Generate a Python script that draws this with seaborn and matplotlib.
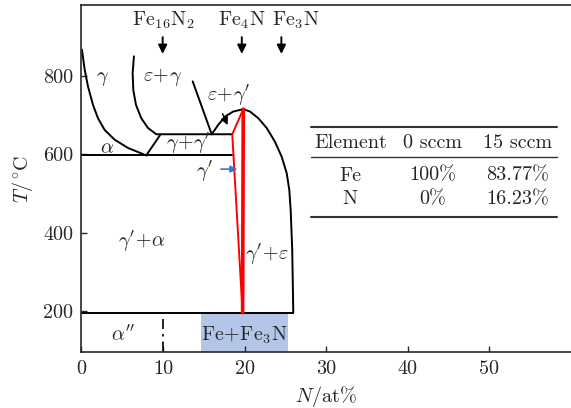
import matplotlib
matplotlib.use("Agg")
import matplotlib.pyplot as plt
import seaborn as sns

# phase boundary curves (N in at%, T in degC)
gamma_N = [0.06, 0.39, 0.80, 1.41, 2.02, 2.84, 4.07, 5.70, 7.94]
gamma_T = [867, 816, 773, 726, 692, 662, 637, 616, 597]

eps_gamma_N = [6.43, 6.27, 6.35, 6.68, 7.33, 8.15, 9.17, 18.48]
eps_gamma_T = [850, 807, 764, 726, 692, 667, 651, 651]

eutectoid_N = [7.94, 9.70]
eutectoid_T = [597, 651]

alpha_line_N = [0, 18.48]
alpha_line_T = [597, 597]

eps_gp_N = [13.63, 15.96]
eps_gp_T = [786, 651]

dome_N = [15.96, 16.76, 17.59, 18.60, 19.83, 20.65, 21.67, 22.70, 23.71,
          24.53, 25.15, 25.47, 25.64, 25.83, 25.96]
dome_T = [651, 675, 696, 709, 715, 709, 692, 667, 632, 594, 552, 509, 458, 356, 195]

low_line_N = [0, 25.96]
low_line_T = [195, 195]

gp_thin_N = [19.83, 18.48, 19.75]
gp_thin_T = [715, 651, 195]
gp_thick_N = [19.83, 19.75]
gp_thick_T = [715, 195]

dashdot_N = [10, 10]
dashdot_T = [178, 95]

fe3n_span = [14.65, 25.3]
fe3n_T = [95, 195]

# compounds marked with arrows on top
compounds = [r"$\mathrm{Fe_{16}N_2}$", r"$\mathrm{Fe_4N}$", r"$\mathrm{Fe_3N}$"]
compound_N = [9.95, 19.65, 24.5]
compound_label_N = [10.0, 19.7, 26.3]

# phase labels
phase_labels = [r"$\gamma$", r"$\varepsilon\!+\!\gamma$", r"$\varepsilon\!+\!\gamma'$", r"$\alpha$",
                r"$\gamma\!+\!\gamma'$", r"$\gamma'$", r"$\gamma'\!+\!\alpha$",
                r"$\gamma'\!+\!\varepsilon$", r"$\alpha''$", r"$\mathrm{Fe\!+\!Fe_3N}$"]
phase_N = [2.6, 9.9, 18.0, 3.1, 13.1, 15.1, 7.4, 22.7, 5.1, 19.95]
phase_T = [792, 796, 750, 616, 627, 557, 377, 343, 139, 139]

# composition table
table_cols = ["Element", "0 sccm", "15 sccm"]
table_rows = [["Fe", "100%", "83.77%"], ["N", "0%", "16.23%"]]

x_ticks = [0, 10, 20, 30, 40, 50]
y_ticks = [200, 400, 600, 800]

sns.set_style("ticks")
plt.rcParams["font.family"] = ["cmr10", "DejaVu Serif"]
plt.rcParams["mathtext.fontset"] = "cm"
plt.rcParams["axes.unicode_minus"] = False
fs = 14.5

fig = plt.figure(figsize=(5.71, 4.08), dpi=100)
ax = fig.add_axes([0.1427, 0.1373, 0.8573, 0.8504])

ax.fill_between(fe3n_span, fe3n_T[0], fe3n_T[1], color="#b4c6e7", lw=0, zorder=0)

black_curves = [(gamma_N, gamma_T), (eps_gamma_N, eps_gamma_T), (eutectoid_N, eutectoid_T),
                (alpha_line_N, alpha_line_T), (eps_gp_N, eps_gp_T), (dome_N, dome_T),
                (low_line_N, low_line_T)]
for xs, ys in black_curves:
    sns.lineplot(x=xs, y=ys, sort=False, estimator=None, color="black", lw=1.4, ax=ax)

sns.lineplot(x=gp_thin_N, y=gp_thin_T, sort=False, estimator=None, color="red", lw=1.4, ax=ax)
sns.lineplot(x=gp_thick_N, y=gp_thick_T, sort=False, estimator=None, color="red", lw=2.6, ax=ax)
sns.lineplot(x=dashdot_N, y=dashdot_T, sort=False, estimator=None, color="black", lw=1.2,
             ax=ax, linestyle=(0, (6, 3, 1.5, 3)))

for name, xa, xl in zip(compounds, compound_N, compound_label_N):
    ax.text(xl, 943, name, ha="center", va="center", fontsize=fs)
    ax.annotate("", xy=(xa, 849), xytext=(xa, 906),
                arrowprops=dict(arrowstyle="-|>", color="black", lw=1.4, mutation_scale=13))

for lab, xn, yt in zip(phase_labels, phase_N, phase_T):
    ax.text(xn, yt, lab, ha="center", va="center", fontsize=fs)

# small arrows
ax.annotate("", xy=(18.05, 668), xytext=(17.15, 710),
            arrowprops=dict(arrowstyle="-|>", color="black", lw=1.0, mutation_scale=11))
ax.annotate("", xy=(19.45, 562), xytext=(16.75, 562),
            arrowprops=dict(arrowstyle="-|>", color="#4472c4", lw=1.2, mutation_scale=10))

# table drawn in axes fraction
tx0, tx1 = 0.468, 0.972
for yy, w in [(0.649, 1.5), (0.563, 1.0), (0.390, 1.5)]:
    ax.plot([tx0, tx1], [yy, yy], transform=ax.transAxes, color="#333333", lw=w)
col_x = [0.549, 0.718, 0.890]
for cx, txt in zip(col_x, table_cols):
    ax.text(cx, 0.601, txt, transform=ax.transAxes, ha="center", va="center", fontsize=fs)
for ry, row in zip([0.508, 0.440], table_rows):
    for cx, txt in zip(col_x, row):
        ax.text(cx, ry, txt, transform=ax.transAxes, ha="center", va="center", fontsize=fs)

ax.set_xlim(0, 60)
ax.set_ylim(95, 981)
ax.set_xticks(x_ticks)
ax.set_yticks(y_ticks)
ax.tick_params(direction="in", length=4, width=1, labelsize=fs, pad=6)
for s in ["left", "top", "bottom"]:
    ax.spines[s].set_linewidth(1.2)
ax.spines["right"].set_visible(False)
ax.set_xlabel(r"$N/\mathrm{at\%}$", fontsize=fs, labelpad=4)
ax.set_ylabel(r"$T/^{\circ}\mathrm{C}$", fontsize=fs, labelpad=6)

fig.savefig("out.png", dpi=100)
